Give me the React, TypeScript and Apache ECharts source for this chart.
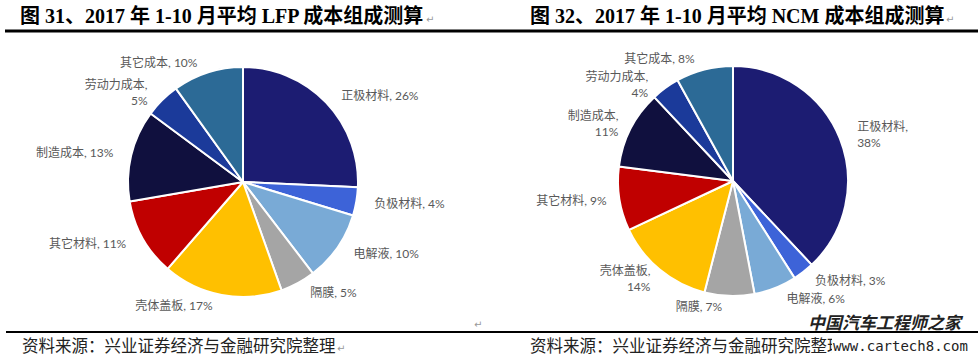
import React, { useEffect, useRef } from "react";
import * as echarts from "echarts";

const categories = ["正极材料", "负极材料", "电解液", "隔膜", "壳体盖板", "其它材料", "制造成本", "劳动力成本", "其它成本"];
const lfpValues = [26, 4, 10, 5, 17, 11, 13, 5, 10];
const ncmValues = [38, 3, 6, 7, 14, 9, 11, 4, 8];
const lfpWrap = [false, false, false, false, false, false, false, true, false];
const ncmWrap = [true, false, false, false, true, false, true, true, false];
const colors = ["#1c1c72", "#3d63d8", "#79aad6", "#a5a5a5", "#ffc000", "#c00000", "#10103e", "#1b3a9a", "#2c6a96"];
const titleLeft = "图 31、2017 年 1-10 月平均 LFP 成本组成测算";
const titleRight = "图 32、2017 年 1-10 月平均 NCM 成本组成测算";
const sourceText = "资料来源：兴业证券经济与金融研究院整理";

const titleFont = 'bold 20px "Liberation Serif", "Noto Sans CJK SC", serif';
const sourceFont = '16.5px "Liberation Serif", "Noto Sans CJK SC", serif';
const markFont = '10px "DejaVu Sans"';

function buildSeries(values: number[], wraps: boolean[], center: [number, number]) {
  return {
    type: "pie",
    center,
    radius: 115,
    startAngle: 90,
    clockwise: true,
    avoidLabelOverlap: true,
    itemStyle: { borderColor: "#ffffff", borderWidth: 2 },
    label: {
      show: true,
      position: "outside",
      color: "#595959",
      fontSize: 12,
      lineHeight: 16,
      fontFamily: 'Lato, "Noto Sans CJK SC", sans-serif',
    },
    labelLine: { show: false, length: 11, length2: 2 },
    data: categories.map((name, i) => ({
      name,
      value: values[i],
      itemStyle: { color: colors[i] },
      label: {
        formatter: name + "," + (wraps[i] ? "\n" : " ") + values[i] + "%",
        align: wraps[i] ? "center" : undefined,
      },
    })),
  };
}

export default function App() {
  const ref = useRef<HTMLDivElement>(null);
  useEffect(() => {
    document.body.style.margin = "0";
    const chart = echarts.init(ref.current!, undefined, { renderer: "svg" });
    chart.setOption({
      animation: false,
      backgroundColor: "#ffffff",
      series: [
        buildSeries(lfpValues, lfpWrap, [243, 182]),
        buildSeries(ncmValues, ncmWrap, [733, 181]),
      ],
      graphic: [
        { type: "text", x: 20, y: 16, style: { text: titleLeft, font: titleFont, fill: "#000", textVerticalAlign: "middle" } },
        { type: "text", x: 530, y: 16, style: { text: titleRight, font: titleFont, fill: "#000", textVerticalAlign: "middle" } },
        { type: "text", x: 426, y: 19, style: { text: "↵", font: markFont, fill: "#999", textVerticalAlign: "middle" } },
        { type: "text", x: 946, y: 19, style: { text: "↵", font: markFont, fill: "#999", textVerticalAlign: "middle" } },
        { type: "line", shape: { x1: 5, y1: 31, x2: 978, y2: 31 }, style: { stroke: "#000", lineWidth: 3 } },
        { type: "line", shape: { x1: 6, y1: 332, x2: 978, y2: 332 }, style: { stroke: "#000", lineWidth: 2 } },
        { type: "text", x: 22, y: 346, style: { text: sourceText, font: sourceFont, fill: "#222", textVerticalAlign: "middle" } },
        { type: "text", x: 337, y: 348, style: { text: "↵", font: markFont, fill: "#999", textVerticalAlign: "middle" } },
        { type: "text", x: 530, y: 346, style: { text: sourceText, font: sourceFont, fill: "#222", textVerticalAlign: "middle" } },
        { type: "text", x: 474, y: 324, style: { text: "↵", font: markFont, fill: "#999", textVerticalAlign: "middle" } },
        { type: "text", x: 808, y: 321, style: { text: "中国汽车工程师之家", font: 'italic bold 17px "Noto Sans CJK SC"', fill: "#222", textVerticalAlign: "middle" } },
        { type: "rect", shape: { x: 832, y: 338, width: 146, height: 18 }, style: { fill: "#ffffff" } },
        { type: "text", x: 833, y: 346, style: { text: "www.cartech8.com", font: '14px "DejaVu Sans Mono"', fill: "#222", textVerticalAlign: "middle" } },
      ],
    });
    return () => chart.dispose();
  }, []);
  return <div ref={ref} style={{ width: 978, height: 360 }} />;
}
